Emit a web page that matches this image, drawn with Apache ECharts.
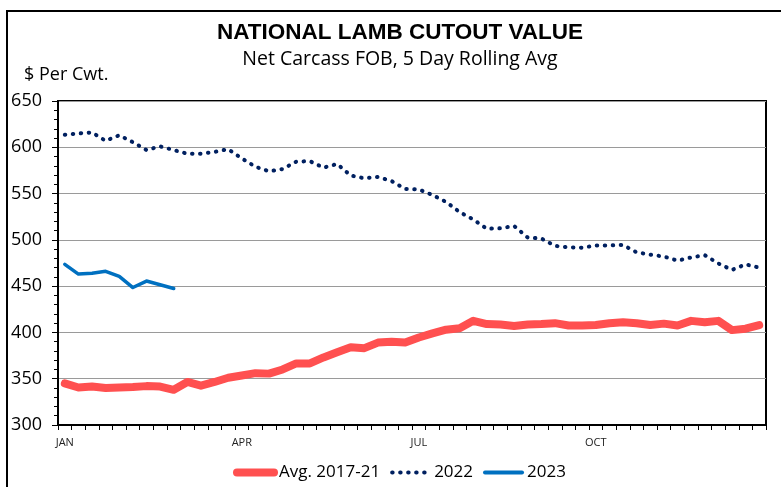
<!DOCTYPE html>
<html>
<head>
<meta charset="utf-8">
<script src="https://cdn.jsdelivr.net/npm/echarts@6/dist/echarts.min.js"></script>
<style>
  html, body { margin: 0; padding: 0; background: #fff; }
  #chart { width: 781px; height: 487px; }
</style>
</head>
<body>
<div id="chart"></div>
<script>
var WEEKS = [];
for (var w = 1; w <= 52; w++) WEEKS.push(String(w));
var TICK_WEEKS = [0, 13, 26, 39];
var TICK_LABELS = ["JAN", "APR", "JUL", "OCT"];

var AVG_2017_21 = [345, 340.5, 341.5, 340, 340.5, 341, 342, 341.5, 338, 346.5,
  342.5, 346.5, 351, 353.5, 356, 355.5, 360, 366.5, 366.5, 373,
  378.5, 384, 383, 389, 390, 389, 394.5, 399, 403, 404.5,
  412.5, 409, 408.5, 407, 408.5, 409, 410, 407.5, 407.5, 408,
  410, 411, 410, 408, 409.5, 407.5, 412.5, 411, 412.5, 402.5,
  404, 408];
var Y2022 = [613.5, 615, 616, 607, 613, 605.5, 597, 601, 597, 593,
  593, 595, 598, 588, 579, 574, 576.5, 584.5, 585, 578,
  582, 569.5, 566.5, 568, 563.5, 555, 554.5, 548.5, 541, 530,
  522, 512, 512.5, 515, 502.5, 501.5, 493.5, 492, 491.5, 494,
  494, 494.5, 486.5, 484, 482, 477.5, 481, 483.5, 474.5, 467.5,
  473.5, 470];
var Y2023 = [473.5, 463, 464, 466, 460.5, 448.5, 455.5, 451.5, 447.5];

var FONT = "'Open Sans', sans-serif";
var RED = "#ff5050", NAVY = "#002060", BLUE = "#0070c0";

var chart = echarts.init(document.getElementById("chart"));
chart.setOption({
  animation: false,
  backgroundColor: "#fff",
  graphic: [
    { type: "polyline", shape: { points: [[7, 487], [7, 11], [781, 11]] },
      style: { stroke: "#000", lineWidth: 2, fill: null } },
    { type: "text", x: 400, y: 21,
      style: { text: "NATIONAL LAMB CUTOUT VALUE", fill: "#000", align: "center",
               font: "bold 22.5px 'Liberation Sans', Arial, sans-serif" } },
    { type: "text", x: 400, y: 49,
      style: { text: "Net Carcass FOB, 5 Day Rolling Avg", fill: "#000", align: "center",
               font: "19.5px " + FONT } },
    { type: "text", x: 24, y: 66,
      style: { text: "$ Per Cwt.", fill: "#000", align: "left", font: "18px " + FONT } }
  ],
  grid: { left: 58, right: 15, top: 101, bottom: 62, show: true,
          borderColor: "#000", borderWidth: 2, backgroundColor: "transparent" },
  legend: {
    left: 233, top: 464, padding: 0, itemWidth: 37, itemHeight: 12, itemGap: 10,
    textStyle: { color: "#000", fontSize: 17, fontFamily: FONT },
    data: [
      { name: "Avg. 2017-21", lineStyle: { width: 8 }, itemStyle: { opacity: 0 } },
      { name: "2022", lineStyle: { width: 4 }, itemStyle: { opacity: 0 } },
      { name: "2023", lineStyle: { width: 4 }, itemStyle: { opacity: 0 } }
    ]
  },
  xAxis: {
    type: "category", data: WEEKS, boundaryGap: true,
    axisLine: { lineStyle: { color: "#000", width: 2 } },
    axisTick: { show: true, interval: 0, length: 5, lineStyle: { color: "#000" } },
    axisLabel: {
      interval: 0, margin: 12, color: "#222", fontSize: 11, fontFamily: FONT,
      formatter: function(v, i) {
        var k = TICK_WEEKS.indexOf(i);
        return k >= 0 ? TICK_LABELS[k] : "";
      }
    },
    splitLine: { show: false }
  },
  yAxis: {
    type: "value", min: 300, max: 650, interval: 50,
    axisLine: { show: true, lineStyle: { color: "#000", width: 2 } },
    axisTick: { show: true, length: 6, lineStyle: { color: "#000" } },
    minorTick: { show: true, splitNumber: 5, length: 4, lineStyle: { color: "#000" } },
    axisLabel: { margin: 16, color: "#000", fontSize: 18, fontFamily: FONT },
    splitLine: { show: true, lineStyle: { color: "#9a9a9a", width: 1 } }
  },
  series: [
    { name: "Avg. 2017-21", type: "line", data: AVG_2017_21, symbol: "none", z: 2,
      lineStyle: { color: RED, width: 8, cap: "round", join: "round" },
      itemStyle: { color: RED } },
    { name: "2022", type: "line", data: Y2022, symbol: "none", z: 3,
      lineStyle: { color: NAVY, width: 4, type: [0.5, 7.5], cap: "round", join: "round" },
      itemStyle: { color: NAVY } },
    { name: "2023", type: "line", data: Y2023, symbol: "none", z: 4,
      lineStyle: { color: BLUE, width: 3.5, cap: "round", join: "round" },
      itemStyle: { color: BLUE } }
  ]
});
</script>
</body>
</html>
